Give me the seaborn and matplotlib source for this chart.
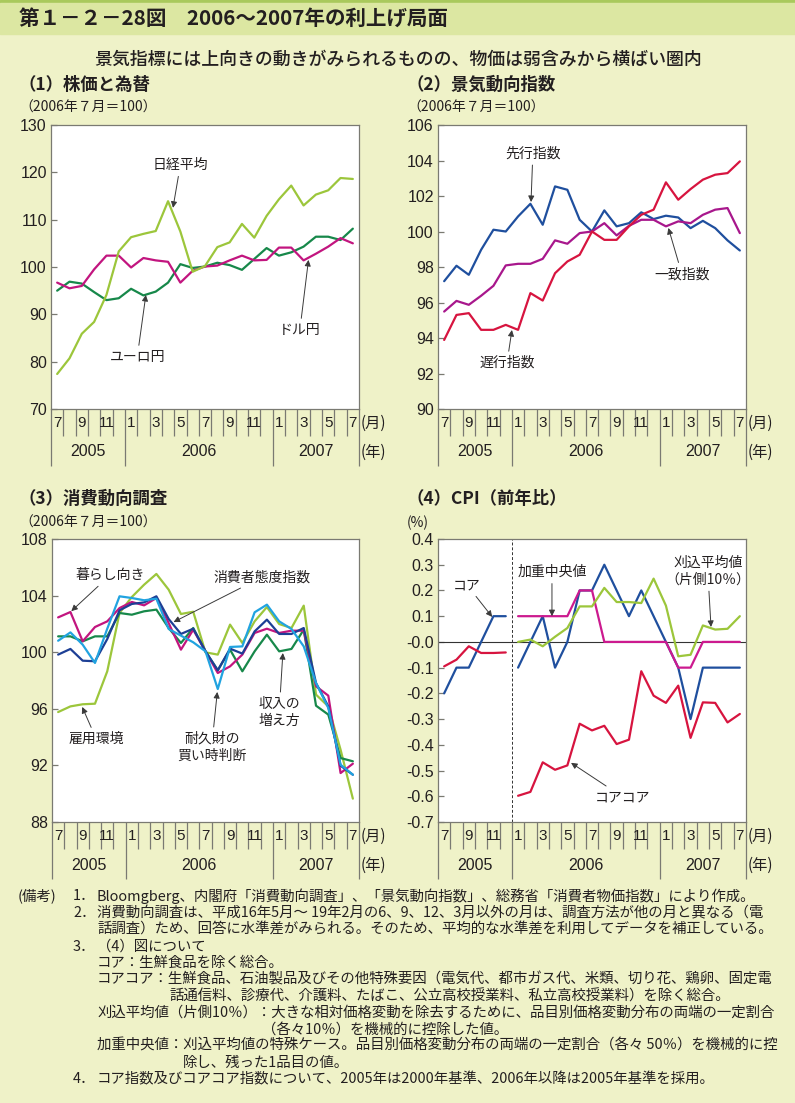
import numpy as np
import pandas as pd
import matplotlib
matplotlib.use('Agg')
import matplotlib.pyplot as plt
import matplotlib.transforms as mtrans
from matplotlib.patches import Rectangle
import seaborn as sns

sns.set_style('ticks')
plt.rcParams['font.family'] = ['Noto Sans CJK JP', 'DejaVu Sans']

W, H = 795, 1103

# ---------------- data ----------------
months = [7, 8, 9, 10, 11, 12, 1, 2, 3, 4, 5, 6, 7, 8, 9, 10, 11, 12, 1, 2, 3, 4, 5, 6, 7]
years = ['2005', '2006', '2007']
year_centers = [2.5, 11.5, 21.0]

# (1) stock prices & exchange rates (2006/7 = 100)
nikkei = [77.4, 80.7, 85.9, 88.4, 94.1, 103.3, 106.3, 107.0, 107.6, 113.9, 107.5, 99.0, 100.2,
          104.2, 105.2, 109.1, 106.2, 110.8, 114.3, 117.2, 113.0, 115.3, 116.2, 118.8, 118.6]
usd_jpy = [96.7, 95.5, 96.0, 99.5, 102.4, 102.4, 99.9, 101.9, 101.4, 101.1, 96.7, 99.2, 100.1,
           100.3, 101.4, 102.4, 101.4, 101.5, 104.1, 104.1, 101.4, 102.8, 104.3, 106.1, 105.0]
eur_jpy = [95.0, 96.9, 96.5, 94.7, 93.0, 93.4, 95.4, 94.0, 94.8, 96.7, 100.6, 99.8, 100.1,
           100.9, 100.4, 99.4, 101.7, 104.0, 102.4, 103.1, 104.3, 106.4, 106.4, 105.7, 108.1]

# (2) business conditions indexes
leading = [97.2, 98.07, 97.56, 98.97, 100.1, 100.0, 100.85, 101.56, 100.38, 102.54, 102.35, 100.66, 100.0,
           101.19, 100.29, 100.47, 101.08, 100.7, 100.89, 100.79, 100.19, 100.6, 100.19, 99.5, 98.93]
coincident = [95.49, 96.09, 95.87, 96.38, 96.94, 98.09, 98.18, 98.18, 98.46, 99.5, 99.31, 99.91, 100.0,
              100.47, 99.78, 100.32, 100.66, 100.66, 100.29, 100.57, 100.47, 100.94, 101.23, 101.32, 99.91]
lagging = [93.89, 95.3, 95.4, 94.46, 94.46, 94.74, 94.46, 96.53, 96.11, 97.65, 98.31, 98.69, 100.0,
           99.53, 99.53, 100.29, 100.94, 101.23, 102.77, 101.79, 102.39, 102.92, 103.2, 103.29, 103.95]

# (3) consumer confidence survey
kurashi = [102.46, 102.84, 100.77, 101.78, 102.18, 103.12, 103.55, 103.31, 103.83, 102.06, 100.18, 101.59, 100.06,
           98.53, 99.0, 99.83, 101.36, 101.66, 101.36, 101.52, 101.52, 97.59, 96.93, 91.46, 92.12]
koyou = [95.77, 96.17, 96.32, 96.36, 98.65, 102.77, 103.9, 104.77, 105.53, 104.42, 102.7, 102.86, 99.99,
         99.83, 101.95, 100.65, 102.18, 103.19, 101.99, 101.71, 103.29, 97.0, 96.17, 93.11, 89.65]
taido = [99.83, 100.23, 99.4, 99.36, 100.93, 102.96, 103.41, 103.52, 103.95, 102.35, 101.29, 101.66, 100.06,
         98.72, 100.25, 99.9, 101.47, 102.3, 101.29, 101.29, 101.71, 97.82, 96.17, 91.98, 91.34]
taikyu = [100.81, 101.4, 100.53, 99.24, 101.66, 103.95, 103.83, 103.67, 103.78, 101.64, 101.17, 100.7, 100.06,
          97.4, 100.37, 100.41, 102.82, 103.36, 102.18, 101.64, 100.41, 97.82, 96.06, 92.05, 91.34]
shunyu = [101.12, 101.12, 100.77, 101.12, 101.12, 102.77, 102.65, 102.89, 103.01, 101.71, 100.65, 101.71, 100.06,
          98.72, 100.18, 98.65, 100.06, 101.24, 100.06, 100.23, 101.59, 96.22, 95.59, 92.52, 92.29]

# (4) CPI, y/y %
nan = np.nan
core = [-0.2, -0.1, -0.1, 0.0, 0.1, 0.1, -0.1, 0.0, 0.1, -0.1, 0.0, 0.2, 0.2,
        0.3, 0.2, 0.1, 0.2, 0.1, 0.0, -0.1, -0.3, -0.1, -0.1, -0.1, -0.1]
core_core = [-0.095, -0.069, -0.017, -0.043, -0.043, -0.041, -0.598, -0.583, -0.468, -0.497, -0.48, -0.318, -0.344,
             -0.326, -0.397, -0.38, -0.114, -0.209, -0.237, -0.17, -0.373, -0.235, -0.237, -0.313, -0.28]
w_median = [nan, nan, nan, nan, nan, nan, 0.1, 0.1, 0.1, 0.1, 0.1, 0.2, 0.2,
            0.0, 0.0, 0.0, 0.0, 0.0, 0.0, -0.1, -0.1, 0.0, 0.0, 0.0, 0.0]
trimmed = [nan, nan, nan, nan, nan, nan, 0.0, 0.009, -0.017, 0.02, 0.054, 0.138, 0.138,
           0.21, 0.155, 0.155, 0.151, 0.246, 0.141, -0.056, -0.05, 0.064, 0.048, 0.051, 0.1]

# ---------------- style ----------------
BG = '#eff2c8'
EDGE = '#7a7a72'
TXT = '#231f20'
C_YG = '#9cc63b'
C_MAG = '#c2157f'
C_GRN = '#17884a'
C_BLUE = '#1f4f9e'
C_PUR = '#a8178c'
C_RED = '#d7143f'
C_CYAN = '#21a3e0'
C_NAVY = '#1d3f95'

fig = plt.figure(figsize=(W / 100, H / 100), dpi=100, facecolor=BG)


def fy(px):
    return 1 - px / H


def fx(px):
    return px / W


# header
fig.patches.append(Rectangle((0, fy(3)), 1, 3 / H, transform=fig.transFigure, color='#a9c95c', zorder=0))
fig.patches.append(Rectangle((0, fy(34)), 1, 31 / H, transform=fig.transFigure, color='#dce7a2', zorder=0))
fig.text(fx(19), fy(18), '第１－２－28図　2006～2007年の利上げ局面', fontsize=14.8, weight='bold',
         color=TXT, va='center', ha='left')
fig.text(fx(398), fy(59), '景気指標には上向きの動きがみられるものの、物価は弱含みから横ばい圏内',
         fontsize=12.9, weight='medium', color=TXT, va='center', ha='center')


def make_ax(l, t, r, b):
    ax = fig.add_axes([fx(l), fy(b), fx(r - l), (b - t) / H])
    ax.set_facecolor('white')
    for s in ax.spines.values():
        s.set_color(EDGE)
        s.set_linewidth(0.9)
    return ax


def month_axis(ax, bottom_px, panel_right_px):
    ax.set_xlim(-0.5, 24.5)
    ax.xaxis.remove_overlapping_locs = True
    ax.set_xticks([-0.5, 5.5, 17.5, 24.5])
    ax.set_xticks(np.arange(-0.5, 25, 1.0), minor=True)
    ax.set_xticklabels([])
    ax.tick_params(axis='x', which='major', direction='out', length=57 * 0.72, width=0.9, color=EDGE)
    ax.tick_params(axis='x', which='minor', direction='out', length=27 * 0.72, width=0.9, color=EDGE)
    tr = mtrans.blended_transform_factory(ax.transData, fig.transFigure)
    for i, m in enumerate(months):
        if m % 2 == 1:
            ax.text(i, fy(bottom_px + 14), str(m), transform=tr, ha='center', va='center',
                    fontsize=11, color=TXT, family='Liberation Sans')
    for c, yname in zip(year_centers, years):
        ax.text(c, fy(bottom_px + 43), yname, transform=tr, ha='center', va='center',
                fontsize=11.5, color=TXT, family='Liberation Sans')
    fig.text(fx(panel_right_px + 2), fy(bottom_px + 14), '(月)', fontsize=11, color=TXT, va='center', ha='left')
    fig.text(fx(panel_right_px + 2), fy(bottom_px + 43), '(年)', fontsize=11, color=TXT, va='center', ha='left')
    ax.set_xlabel('')
    ax.set_ylabel('')


def y_axis(ax, lo, hi, step, fmt):
    ax.set_ylim(lo, hi)
    ticks = np.round(np.arange(lo, hi + step / 2, step), 3)
    ax.set_yticks(ticks)
    ax.set_yticklabels([fmt(v) for v in ticks], family='Liberation Sans')
    ax.tick_params(axis='y', direction='in', length=4, width=0.9, color=EDGE, labelsize=11.5,
                   pad=3, labelcolor=TXT)


def draw_lines(ax, series, palette, gap=False):
    df = pd.DataFrame({'idx': np.arange(25)})
    for name, vals in series.items():
        df[name] = vals
    long = df.melt('idx', var_name='series', value_name='value').dropna()
    # the CPI panel breaks between 2005 and 2006 (base-year change)
    long['seg'] = np.where(long['idx'] < 6, 0, 1) if gap else 0
    sns.lineplot(data=long, x='idx', y='value', hue='series', units='seg', estimator=None,
                 palette=palette, hue_order=list(series.keys()), linewidth=1.6, legend=False, ax=ax, sort=True)


ARROW = dict(arrowstyle='-|>', color='#3a3a3a', lw=0.7, mutation_scale=9, shrinkA=1, shrinkB=0)


def note(ax, text, xy, xytext):
    ax.annotate(text, xy=xy, xytext=xytext, ha='center', va='center', fontsize=10, color=TXT,
                arrowprops=ARROW, linespacing=1.25)


def sub_header(x, y_title, title, y_unit, unit):
    fig.text(fx(x), fy(y_title), title, fontsize=12.5, weight='bold', color=TXT, va='center', ha='left')
    fig.text(fx(x), fy(y_unit), unit, fontsize=10, color=TXT, va='center', ha='left')


# ---------------- panel 1 ----------------
sub_header(19, 85, '（1）株価と為替', 108, '（2006年７月＝100）')
ax1 = make_ax(51, 125, 359, 409)
draw_lines(ax1, {'ユーロ円': eur_jpy, 'ドル円': usd_jpy, '日経平均': nikkei},
           {'日経平均': C_YG, 'ドル円': C_MAG, 'ユーロ円': C_GRN})
y_axis(ax1, 70, 130, 10, lambda v: f'{v:.0f}')
month_axis(ax1, 409, 359)
note(ax1, '日経平均', (9.4, 112.5), (10.0, 121.6))
note(ax1, 'ユーロ円', (7.2, 94.1), (6.5, 81.0))
note(ax1, 'ドル円', (20.4, 101.5), (19.7, 86.7))

# ---------------- panel 2 ----------------
sub_header(407, 85, '（2）景気動向指数', 108, '（2006年７月＝100）')
ax2 = make_ax(438, 125, 746, 409)
draw_lines(ax2, {'先行指数': leading, '一致指数': coincident, '遅行指数': lagging},
           {'先行指数': C_BLUE, '一致指数': C_PUR, '遅行指数': C_RED})
y_axis(ax2, 90, 106, 2, lambda v: f'{v:.0f}')
month_axis(ax2, 409, 746)
note(ax2, '先行指数', (7.05, 101.66), (7.2, 104.4))
note(ax2, '一致指数', (18.2, 100.2), (19.3, 97.6))
note(ax2, '遅行指数', (5.5, 94.45), (5.1, 92.6))

# ---------------- panel 3 ----------------
sub_header(19, 499, '（3）消費動向調査', 523, '（2006年７月＝100）')
ax3 = make_ax(52, 539, 359, 822)
draw_lines(ax3, {'雇用環境': koyou, '収入の増え方': shunyu, '暮らし向き': kurashi,
                 '消費者態度指数': taido, '耐久財の買い時判断': taikyu},
           {'暮らし向き': C_MAG, '雇用環境': C_YG, '消費者態度指数': C_NAVY,
            '耐久財の買い時判断': C_CYAN, '収入の増え方': C_GRN})
y_axis(ax3, 88, 108, 4, lambda v: f'{v:.0f}')
month_axis(ax3, 822, 359)
note(ax3, '暮らし向き', (1.07, 102.9), (4.24, 105.45))
note(ax3, '消費者態度指数', (9.4, 102.13), (16.6, 105.3))
note(ax3, '雇用環境', (1.96, 96.13), (3.1, 93.87))
note(ax3, '耐久財の\n買い時判断', (12.96, 97.19), (12.5, 93.3))
note(ax3, '収入の\n増え方', (18.3, 99.94), (18.0, 95.77))

# ---------------- panel 4 ----------------
sub_header(407, 499, '（4）CPI（前年比）', 523, '(%)')
ax4 = make_ax(438, 539, 746, 822)
ax4.axhline(0, color='#333333', lw=0.8, zorder=1)
ax4.axvline(5.5, color='#333333', lw=0.7, ls=(0, (3, 2)), zorder=1)
draw_lines(ax4, {'コア': core, 'コアコア': core_core, '加重中央値': w_median, '刈込平均値': trimmed},
           {'コア': C_BLUE, 'コアコア': C_RED, '加重中央値': '#cc1a8f', '刈込平均値': C_YG}, gap=True)
y_axis(ax4, -0.7, 0.4, 0.1, lambda v: f'{v:.1f}')
month_axis(ax4, 822, 746)
note(ax4, 'コア', (3.9, 0.097), (1.86, 0.221))
note(ax4, '加重中央値', (8.75, 0.1), (8.75, 0.272))
note(ax4, '刈込平均値\n（片側10％）', (21.66, 0.058), (21.4, 0.275))
note(ax4, 'コアコア', (10.3, -0.47), (14.5, -0.603))

# ---------------- notes ----------------
notes = [
    (18, 896, '(備考)'),
    (73, 896, '1．'),
    (97, 896, 'Bloomgberg、内閣府「消費動向調査」、「景気動向指数」、総務省「消費者物価指数」により作成。'),
    (73, 913, '2．'),
    (97, 913, '消費動向調査は、平成16年5月～ 19年2月の6、9、12、3月以外の月は、調査方法が他の月と異なる（電'),
    (97, 929, '話調査）ため、回答に水準差がみられる。そのため、平均的な水準差を利用してデータを補正している。'),
    (73, 947, '3．'),
    (97, 947, '（4）図について'),
    (97, 963, 'コア：生鮮食品を除く総合。'),
    (97, 979, 'コアコア：生鮮食品、石油製品及びその他特殊要因（電気代、都市ガス代、米類、切り花、鶏卵、固定電'),
    (170, 996, '話通信料、診療代、介護料、たばこ、公立高校授業料、私立高校授業料）を除く総合。'),
    (97, 1013, '刈込平均値（片側10％）：大きな相対価格変動を除去するために、品目別価格変動分布の両端の一定割合'),
    (262, 1030, '（各々10％）を機械的に控除した値。'),
    (97, 1046, '加重中央値：刈込平均値の特殊ケース。品目別価格変動分布の両端の一定割合（各々 50％）を機械的に控'),
    (183, 1063, '除し、残った1品目の値。'),
    (73, 1079, '4．'),
    (97, 1079, 'コア指数及びコアコア指数について、2005年は2000年基準、2006年以降は2005年基準を採用。'),
]
for x, y, t in notes:
    fig.text(fx(x), fy(y), t, fontsize=10.4, color=TXT, va='center', ha='left')

fig.savefig('out.png', dpi=100, facecolor=BG)
